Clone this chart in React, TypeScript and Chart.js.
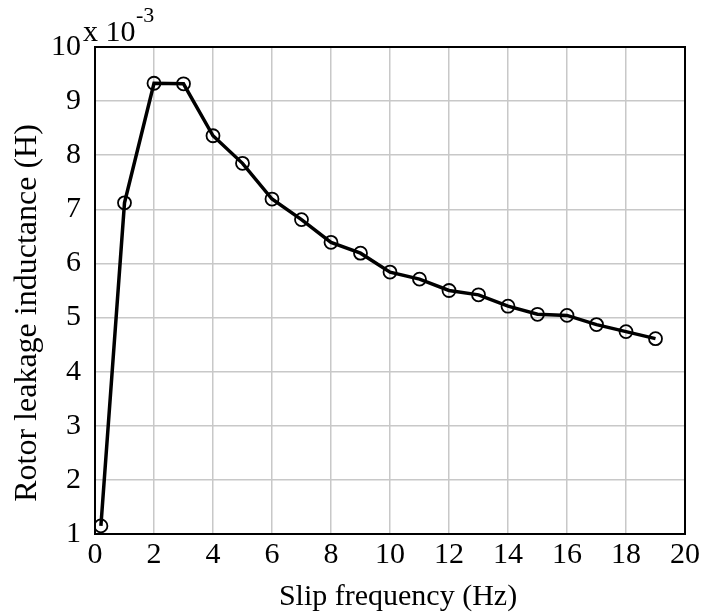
import React, { useEffect, useRef } from "react";
import { Chart, registerables } from "chart.js";

Chart.register(...registerables);

const slipFrequency = [0.2, 1, 2, 3, 4, 5, 6, 7, 8, 9, 10, 11, 12, 13, 14, 15, 16, 17, 18, 19];
const leakageInductance = [1.15, 7.12, 9.33, 9.32, 8.36, 7.85, 7.19, 6.81, 6.39, 6.19, 5.84, 5.71, 5.5, 5.42, 5.21, 5.06, 5.04, 4.87, 4.74, 4.61];
const xTitle = "Slip frequency (Hz)";
const yTitle = "Rotor leakage inductance (H)";
const exponentBase = "x 10";
const exponentPower = "-3";

const FONT = "'Liberation Serif', 'Times New Roman', serif";

const annotations = {
  id: "annotations",
  beforeDatasetsDraw(chart: any) {
    const { ctx, chartArea } = chart;
    ctx.save();
    ctx.strokeStyle = "#000";
    ctx.lineWidth = 2;
    ctx.strokeRect(chartArea.left, chartArea.top, chartArea.right - chartArea.left, chartArea.bottom - chartArea.top);
    ctx.restore();
  },
  afterDraw(chart: any) {
    const { ctx } = chart;
    ctx.save();
    ctx.fillStyle = "#000";
    ctx.font = `30px ${FONT}`;
    ctx.textAlign = "center";
    ctx.textBaseline = "alphabetic";
    ctx.fillText(xTitle, 398, 605);
    ctx.save();
    ctx.translate(36, 313);
    ctx.rotate(-Math.PI / 2);
    ctx.font = `32px ${FONT}`;
    ctx.textAlign = "center";
    ctx.textBaseline = "alphabetic";
    ctx.fillText(yTitle, 0, 0);
    ctx.restore();
    ctx.textAlign = "left";
    ctx.textBaseline = "alphabetic";
    ctx.font = `30px ${FONT}`;
    ctx.fillText(exponentBase, 83, 41);
    ctx.font = `22px ${FONT}`;
    ctx.fillText(exponentPower, 136, 22);
    ctx.restore();
  },
};

export default function App() {
  const ref = useRef<HTMLCanvasElement>(null);
  useEffect(() => {
    if (!ref.current) return;
    const chart = new Chart(ref.current, {
      type: "line",
      data: {
        datasets: [
          {
            data: slipFrequency.map((x, i) => ({ x, y: leakageInductance[i] })),
            borderColor: "#000",
            borderWidth: 3.5,
            pointRadius: 6.5,
            pointBorderWidth: 1.8,
            pointBorderColor: "#000",
            pointBackgroundColor: "rgba(0,0,0,0)",
            tension: 0,
            fill: false,
          },
        ],
      },
      options: {
        responsive: false,
        animation: false,
        layout: { padding: { top: 47, right: 23, left: 0, bottom: 0 } },
        plugins: { legend: { display: false }, tooltip: { enabled: false } },
        scales: {
          x: {
            type: "linear",
            min: 0,
            max: 20,
            ticks: { stepSize: 2, color: "#000", padding: 3, font: { family: FONT, size: 30 } },
            grid: { color: "rgb(200,200,200)", lineWidth: 1.5, drawTicks: false },
            border: { display: false },
            afterFit: (s: any) => { s.height = 80; },
          },
          y: {
            min: 1,
            max: 10,
            ticks: { stepSize: 1, color: "#000", padding: 14, font: { family: FONT, size: 30 } },
            grid: { color: "rgb(200,200,200)", lineWidth: 1.5, drawTicks: false },
            border: { display: false },
            afterFit: (s: any) => { s.width = 95; },
          },
        },
      },
      plugins: [annotations],
    });
    return () => chart.destroy();
  }, []);
  return (
    <div style={{ position: "absolute", left: 0, top: 0, width: 708, height: 614, background: "#fff" }}>
      <canvas ref={ref} width={708} height={614} style={{ width: 708, height: 614 }} />
    </div>
  );
}
